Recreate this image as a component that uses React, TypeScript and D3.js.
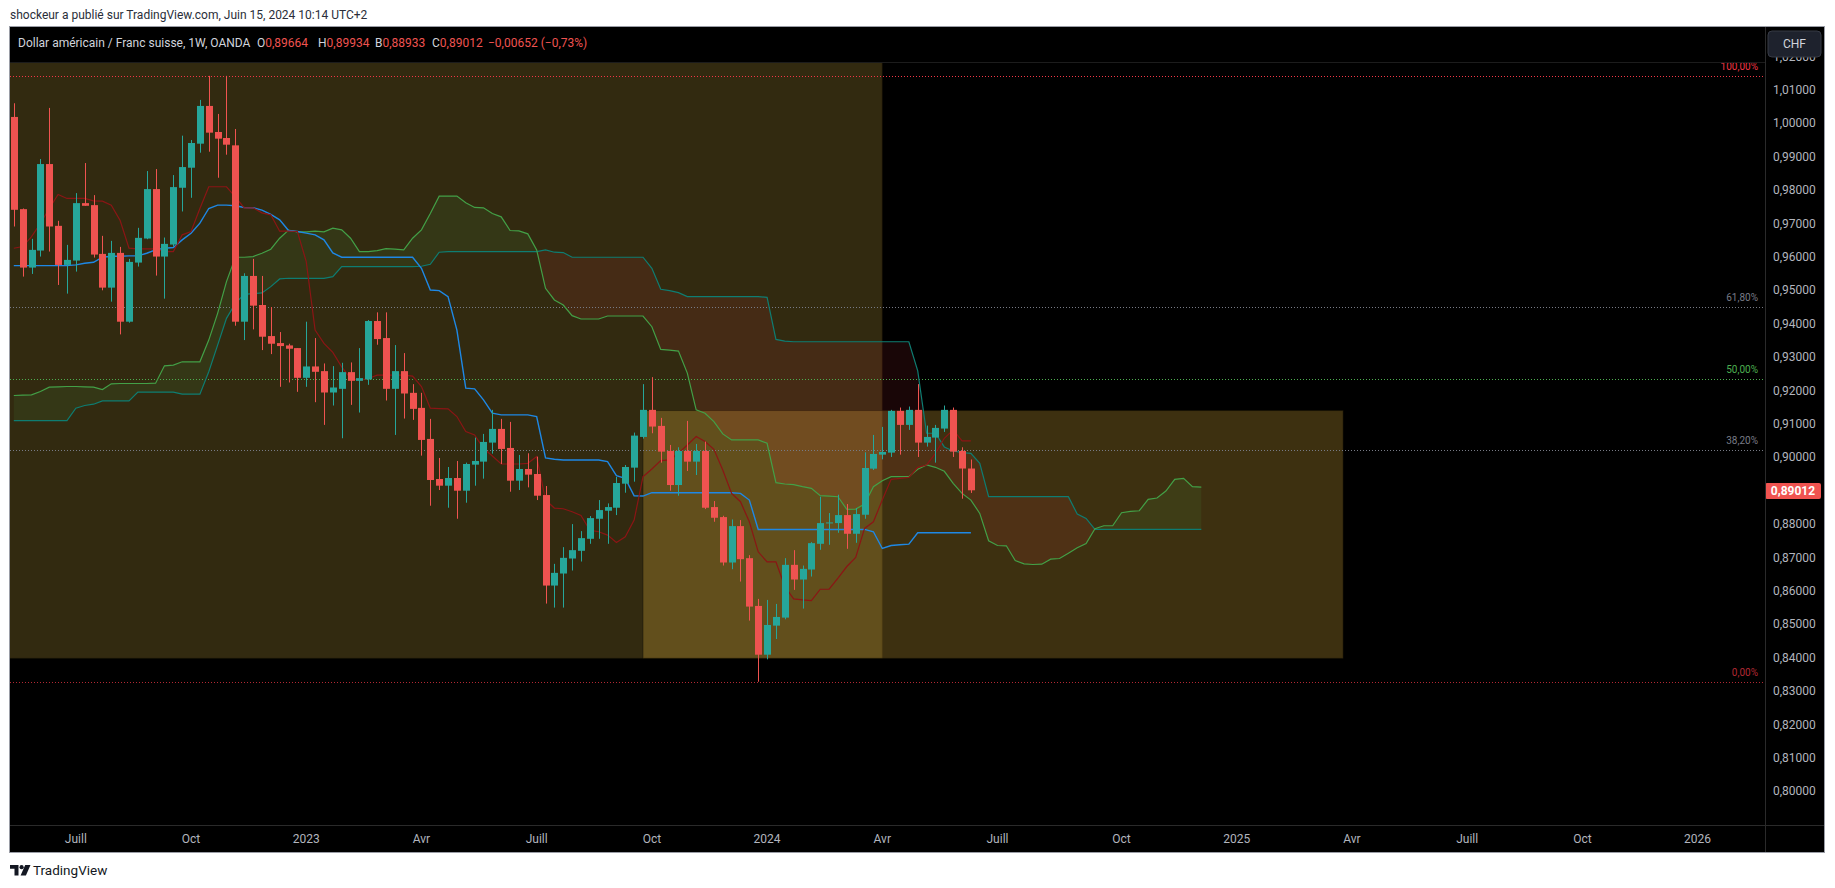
import * as d3 from "d3";

// USD/CHF weekly, OANDA
const firstWeek = "2022-05-16";

const opens = [
  1.0019, 0.9743, 0.9568, 0.9619, 0.9878, 0.9693, 0.9576, 0.9589, 0.9761, 0.9755,
  0.9609, 0.9508, 0.9612, 0.9406, 0.9583, 0.9655, 0.9803, 0.9601, 0.9637, 0.9807,
  0.9867, 0.9939, 1.0052, 0.9974, 0.9956, 0.9934, 0.9406, 0.9543, 0.9456, 0.9363,
  0.9342, 0.9335, 0.9327, 0.9238, 0.9272, 0.9258, 0.9194, 0.9205, 0.9255, 0.9229,
  0.9233, 0.9408, 0.9357, 0.9205, 0.9258, 0.9193, 0.9148, 0.9055, 0.8935, 0.8915,
  0.8938, 0.89, 0.8978, 0.8987, 0.9044, 0.9085, 0.9028, 0.893, 0.8965, 0.895,
  0.8887, 0.8616, 0.8652, 0.8697, 0.872, 0.8756, 0.8816, 0.884, 0.8849, 0.8921,
  0.8969, 0.9061, 0.9142, 0.9094, 0.9019, 0.8917, 0.9019, 0.8987, 0.9019, 0.8851,
  0.8821, 0.8685, 0.8794, 0.8698, 0.8555, 0.8409, 0.8496, 0.852, 0.8678, 0.8634,
  0.8664, 0.8741, 0.8803, 0.8803, 0.8827, 0.8771, 0.8828, 0.8966, 0.9008, 0.9014,
  0.9139, 0.9097, 0.9142, 0.9044, 0.9059, 0.9086, 0.9142, 0.9019, 0.89664,
];
const highs = [
  1.006, 0.9745, 0.9654, 0.9893, 1.0046, 0.9708, 0.9636, 0.9791, 0.9881, 0.9785,
  0.9663, 0.9648, 0.963, 0.9594, 0.9687, 0.9857, 0.9863, 0.9658, 0.9845, 0.9963,
  0.995, 1.007, 1.0142, 1.0028, 1.0142, 0.9983, 0.9551, 0.9594, 0.9543, 0.945,
  0.9375, 0.934, 0.9327, 0.9406, 0.9357, 0.9281, 0.9273, 0.9283, 0.9284, 0.9327,
  0.9411, 0.9434, 0.9434, 0.9336, 0.9312, 0.9219, 0.9193, 0.9115, 0.8998, 0.8971,
  0.8989, 0.8984, 0.9059, 0.907, 0.9142, 0.9115, 0.9106, 0.9007, 0.9012, 0.9002,
  0.8914, 0.8681, 0.8731, 0.88, 0.8779, 0.8824, 0.8872, 0.8862, 0.8941, 0.8977,
  0.9074, 0.9219, 0.924, 0.9118, 0.9037, 0.903, 0.9109, 0.904, 0.9047, 0.8869,
  0.8825, 0.8814, 0.8812, 0.8707, 0.8576, 0.8573, 0.8561, 0.8698, 0.8722, 0.8676,
  0.8746, 0.8882, 0.8833, 0.8888, 0.886, 0.8848, 0.9015, 0.9067, 0.9091, 0.9142,
  0.9149, 0.9152, 0.9219, 0.9095, 0.9097, 0.9155, 0.9149, 0.903, 0.89934,
];
const lows = [
  0.9691, 0.9541, 0.9549, 0.9601, 0.9616, 0.9516, 0.949, 0.9556, 0.9753, 0.9598,
  0.95, 0.9466, 0.9368, 0.9403, 0.9571, 0.9653, 0.9544, 0.9475, 0.9631, 0.9736,
  0.9777, 0.9912, 0.9915, 0.9837, 0.9906, 0.9394, 0.9351, 0.9383, 0.9321, 0.9309,
  0.9211, 0.9224, 0.9196, 0.9211, 0.9165, 0.9097, 0.9155, 0.9057, 0.9157, 0.9134,
  0.9217, 0.9337, 0.917, 0.9067, 0.9116, 0.9112, 0.9005, 0.8855, 0.8902, 0.8849,
  0.8816, 0.8864, 0.8915, 0.8936, 0.9011, 0.898, 0.8897, 0.8902, 0.891, 0.8872,
  0.8562, 0.855, 0.855, 0.8661, 0.8688, 0.8741, 0.8756, 0.8741, 0.8827, 0.8894,
  0.8927, 0.9056, 0.9072, 0.8984, 0.89, 0.8885, 0.8959, 0.8947, 0.8845, 0.8807,
  0.8676, 0.8665, 0.8628, 0.8511, 0.8328, 0.8395, 0.8456, 0.8515, 0.8603, 0.8547,
  0.8643, 0.8723, 0.8738, 0.8774, 0.8726, 0.8744, 0.8816, 0.8962, 0.8994, 0.9001,
  0.9008, 0.9082, 0.9001, 0.9032, 0.8984, 0.9076, 0.9001, 0.8876, 0.88933,
];
const closes = [
  0.9741, 0.9568, 0.9621, 0.9878, 0.9691, 0.9576, 0.9591, 0.9761, 0.9753, 0.9607,
  0.9508, 0.9612, 0.9406, 0.9585, 0.9657, 0.9803, 0.9601, 0.9639, 0.9809, 0.9869,
  0.9941, 1.0052, 0.9972, 0.9954, 0.9936, 0.9406, 0.9543, 0.9454, 0.9361, 0.934,
  0.9333, 0.9325, 0.9238, 0.9272, 0.9256, 0.9194, 0.9209, 0.9255, 0.9229, 0.9237,
  0.9408, 0.9354, 0.9205, 0.9258, 0.9191, 0.9145, 0.9052, 0.8932, 0.8915, 0.8938,
  0.89, 0.898, 0.8989, 0.9046, 0.9085, 0.9025, 0.893, 0.8965, 0.8948, 0.8885,
  0.8616, 0.8654, 0.8699, 0.8722, 0.8758, 0.8818, 0.8842, 0.8851, 0.8923, 0.8971,
  0.9065, 0.9142, 0.9092, 0.9017, 0.8917, 0.9019, 0.8987, 0.9019, 0.8849, 0.8819,
  0.8685, 0.8794, 0.8695, 0.8553, 0.8409, 0.8498, 0.8522, 0.8678, 0.8634, 0.8666,
  0.8743, 0.8803, 0.8805, 0.8827, 0.8771, 0.883, 0.8968, 0.901, 0.9016, 0.9139,
  0.9097, 0.9142, 0.9044, 0.9061, 0.9088, 0.9142, 0.9017, 0.89664, 0.89012,
];

// Ichimoku lines as drawn (cloud already shifted 26 weeks forward)
const tenkan = [
  0.9626, 0.9631, 0.9661, 0.97, 0.9745, 0.9787, 0.9775, 0.9775, 0.9775, 0.9768,
  0.9767, 0.9755, 0.9709, 0.9626, 0.9624, 0.9624, 0.9624, 0.9616, 0.9616, 0.9666,
  0.9676, 0.9745, 0.981, 0.981, 0.981, 0.978, 0.9747, 0.9747, 0.9732, 0.9726,
  0.9677, 0.9677, 0.9676, 0.9586, 0.9381, 0.9341, 0.9314, 0.9271, 0.9236, 0.9231,
  0.9236, 0.9246, 0.9246, 0.9246, 0.9246, 0.9243, 0.9212, 0.9147, 0.9146, 0.9145,
  0.9122, 0.9077, 0.9067, 0.9027, 0.9004, 0.898, 0.898, 0.898, 0.8982, 0.9002,
  0.8872, 0.8848, 0.8846, 0.8837, 0.8826, 0.8782, 0.8777, 0.8767, 0.8745, 0.8762,
  0.8812, 0.8942, 0.8965, 0.899, 0.8992, 0.9012, 0.9037, 0.9062, 0.9047, 0.9024,
  0.8962, 0.8892, 0.8867, 0.8807, 0.8717, 0.8687, 0.8687, 0.8613, 0.8576, 0.8573,
  0.8571, 0.8605, 0.8605, 0.8638, 0.8673, 0.87, 0.8787, 0.8807, 0.8872, 0.8934,
  0.8937, 0.894, 0.897, 0.8977, 0.9012, 0.9057, 0.9082, 0.9049, 0.9049,
];
const kijun = [
  0.9574, 0.9574, 0.9574, 0.9574, 0.9574, 0.9574, 0.9574, 0.9576, 0.9581, 0.9584,
  0.9599, 0.9602, 0.9602, 0.9603, 0.9603, 0.9611, 0.9621, 0.9626, 0.9628, 0.9651,
  0.9671, 0.9701, 0.9745, 0.9755, 0.9755, 0.9753, 0.9748, 0.9747, 0.974, 0.9727,
  0.9711, 0.9679, 0.9676, 0.9671, 0.9666, 0.9651, 0.9612, 0.9599, 0.9599, 0.9599,
  0.9599, 0.9599, 0.9599, 0.9599, 0.9599, 0.9599, 0.9566, 0.9501, 0.9499, 0.9481,
  0.9381, 0.9207, 0.9205, 0.9172, 0.9132, 0.9127, 0.9127, 0.9127, 0.9127, 0.9122,
  0.8998, 0.8994, 0.8992, 0.8992, 0.8992, 0.8992, 0.8992, 0.8987, 0.8945, 0.8937,
  0.8885, 0.8884, 0.8894, 0.8894, 0.8894, 0.8894, 0.8894, 0.8894, 0.8894, 0.8894,
  0.8894, 0.8894, 0.8892, 0.8872, 0.8784, 0.8784, 0.8784, 0.8784, 0.8784, 0.8784,
  0.8784, 0.8784, 0.8784, 0.8784, 0.8784, 0.8784, 0.8784, 0.8777, 0.8727, 0.8736,
  0.8738, 0.874, 0.8774, 0.8774, 0.8774, 0.8774, 0.8774, 0.8774, 0.8774,
];
const senkouA = [
  0.9185, 0.9186, 0.9187, 0.9197, 0.921, 0.9211, 0.9212, 0.9212, 0.9211, 0.921,
  0.9203, 0.922, 0.9221, 0.9221, 0.9221, 0.9221, 0.9222, 0.9274, 0.9276, 0.9286,
  0.9286, 0.9286, 0.9351, 0.9431, 0.9526, 0.9599, 0.9599, 0.9601, 0.9611, 0.9623,
  0.9656, 0.968, 0.9675, 0.9675, 0.9677, 0.9675, 0.9686, 0.9681, 0.9656, 0.9616,
  0.9616, 0.9619, 0.9625, 0.9623, 0.9621, 0.9656, 0.9681, 0.973, 0.9782, 0.9782,
  0.9782, 0.9762, 0.9748, 0.9747, 0.973, 0.972, 0.9679, 0.9678, 0.9669, 0.9621,
  0.9506, 0.9471, 0.9456, 0.9424, 0.9414, 0.9414, 0.9414, 0.9423, 0.9423, 0.9423,
  0.9423, 0.9423, 0.9391, 0.9323, 0.9321, 0.9318, 0.9252, 0.9142, 0.9132, 0.9107,
  0.907, 0.9052, 0.9052, 0.9052, 0.9052, 0.9042, 0.8924, 0.892, 0.8918, 0.8912,
  0.8907, 0.8885, 0.8884, 0.8882, 0.8844, 0.8845, 0.886, 0.8912, 0.893, 0.8942,
  0.8942, 0.8942, 0.8964, 0.8977, 0.897, 0.8958, 0.8922, 0.8892, 0.8872, 0.8832,
  0.875, 0.8736, 0.8735, 0.8691, 0.8681, 0.8679, 0.868, 0.8695, 0.8697, 0.8713,
  0.8729, 0.8742, 0.8786, 0.8795, 0.8795, 0.8834, 0.8838, 0.884, 0.8874, 0.8878,
  0.8899, 0.8934, 0.8937, 0.8912, 0.8911,
];
const senkouB = [
  0.911, 0.911, 0.911, 0.911, 0.911, 0.911, 0.911, 0.9147, 0.9155, 0.9159,
  0.9169, 0.9169, 0.9169, 0.9169, 0.9195, 0.9195, 0.9195, 0.9195, 0.9195, 0.9189,
  0.9189, 0.9189, 0.9256, 0.9336, 0.9416, 0.9461, 0.9488, 0.949, 0.9492, 0.9511,
  0.9534, 0.9536, 0.9536, 0.9536, 0.9536, 0.9536, 0.9541, 0.9571, 0.9571, 0.9571,
  0.9571, 0.9571, 0.9571, 0.9571, 0.9571, 0.9571, 0.9572, 0.9578, 0.9614, 0.9616,
  0.9616, 0.9616, 0.9616, 0.9616, 0.9616, 0.9616, 0.9616, 0.9616, 0.9616, 0.9616,
  0.9621, 0.9614, 0.9613, 0.9599, 0.9599, 0.9599, 0.9599, 0.9599, 0.9599, 0.9599,
  0.9599, 0.9599, 0.9566, 0.9503, 0.9499, 0.9493, 0.9481, 0.9481, 0.9481, 0.9481,
  0.9481, 0.9481, 0.9481, 0.9481, 0.9481, 0.9479, 0.9353, 0.9348, 0.9346, 0.9346,
  0.9346, 0.9346, 0.9346, 0.9346, 0.9346, 0.9346, 0.9346, 0.9346, 0.9346, 0.9346,
  0.9346, 0.9346, 0.9259, 0.9072, 0.9072, 0.9031, 0.9019, 0.9014, 0.9012, 0.8982,
  0.8882, 0.8882, 0.8882, 0.8882, 0.8882, 0.8882, 0.8882, 0.8882, 0.8882, 0.8882,
  0.883, 0.8817, 0.8784, 0.8784, 0.8784, 0.8784, 0.8784, 0.8784, 0.8784, 0.8784,
  0.8784, 0.8784, 0.8784, 0.8784, 0.8784,
];

// drawings: week offsets from firstWeek, prices
const boxWeeks = [[-6, 98], [71, 150]];
const boxPrices = [[1.0183, 0.8398], [0.914, 0.8398]];

const fibRatios = [1, 0.618, 0.5, 0.382, 0];
const fibLabels = ["100,00%", "61,80%", "50,00%", "38,20%", "0,00%"];

const timeTicks = [
  "2022-07-04", "2022-10-03", "2023-01-02", "2023-04-03", "2023-07-03", "2023-10-02",
  "2024-01-01", "2024-04-01", "2024-07-01", "2024-10-07", "2025-01-06", "2025-04-07",
  "2025-07-07", "2025-10-06", "2026-01-05",
];
const timeLabels = [
  "Juill", "Oct", "2023", "Avr", "Juill", "Oct", "2024", "Avr", "Juill", "Oct", "2025",
  "Avr", "Juill", "Oct", "2026",
];
const priceTicks = [
  1.02, 1.01, 1.0, 0.99, 0.98, 0.97, 0.96, 0.95, 0.94, 0.93, 0.92, 0.91, 0.9, 0.89, 0.88,
  0.87, 0.86, 0.85, 0.84, 0.83, 0.82, 0.81, 0.8,
];

const UP = "#26a69a";
const DOWN = "#ef5350";
const fibColors = ["#f23645", "#787b86", "#4caf50", "#787b86", "#b22833"];
const FONT = "Roboto, 'Noto Sans', sans-serif";

const W = 1835;
const H = 888;
const plot = { left: 10, right: 1765, top: 62, bottom: 825 };

export default function App() {
  const t0 = d3.utcParse("%Y-%m-%d")(firstWeek)!;
  const wk = (i: number) => d3.utcDay.offset(t0, 7 * i);

  const x = d3.scaleUtc().domain([t0, wk(108)]).range([13.8, 970.9]);
  const y = d3.scaleLinear().domain([0.8, 0.9]).range([791.3, 457.3]);
  const xi = (i: number) => x(wk(i));

  const fmt = (v: number) => d3.format(".5f")(v).replace(".", ",");

  // cloud runs, split where A and B cross
  type Run = { up: boolean; a: [number, number][]; b: [number, number][] };
  const runs: Run[] = [];
  let cur: Run | null = null;
  for (let i = 0; i < senkouA.length; i++) {
    const up = senkouA[i] >= senkouB[i];
    const px = xi(i);
    if (!cur) {
      cur = { up, a: [], b: [] };
      runs.push(cur);
    } else if (up !== cur.up) {
      const d0 = senkouA[i - 1] - senkouB[i - 1];
      const d1 = senkouA[i] - senkouB[i];
      const t = d0 / (d0 - d1);
      const xc = xi(i - 1) + t * (px - xi(i - 1));
      const yc = y(senkouA[i - 1] + t * (senkouA[i] - senkouA[i - 1]));
      cur.a.push([xc, yc]);
      cur.b.push([xc, yc]);
      cur = { up, a: [[xc, yc]], b: [[xc, yc]] };
      runs.push(cur);
    }
    cur.a.push([px, y(senkouA[i])]);
    cur.b.push([px, y(senkouB[i])]);
  }
  const poly = d3.line();

  const line = d3
    .line<number>()
    .x((_, i) => xi(i))
    .y((d) => y(d));

  const hi = d3.max(highs)!;
  const lo = d3.min(lows)!;
  const last = closes[closes.length - 1];
  const prev = closes[closes.length - 2];

  const bodyW = 7;

  return (
    <div style={{ position: "fixed", left: 0, top: 0, width: W, height: H, background: "#fff" }}>
      <svg width={W} height={H} style={{ display: "block", fontFamily: FONT }}>
        <defs>
          <clipPath id="plotClip">
            <rect x={plot.left} y={plot.top} width={plot.right - plot.left} height={plot.bottom - plot.top} />
          </clipPath>
        </defs>

        <text x={10} y={19} fontSize={12} fill="#2a2e39">
          shockeur a publié sur TradingView.com, Juin 15, 2024 10:14 UTC+2
        </text>

        {/* chart frame */}
        <rect x={10} y={27} width={1814} height={825} fill="#000" />

        <g clipPath="url(#plotClip)">
          {boxWeeks.map((b, k) => (
            <rect
              key={k}
              x={xi(b[0])}
              y={y(boxPrices[k][0])}
              width={xi(b[1]) - xi(b[0])}
              height={y(boxPrices[k][1]) - y(boxPrices[k][0])}
              fill={k === 0 ? "rgba(250,210,80,0.2)" : "rgba(244,192,64,0.25)"}
              stroke="rgba(20,16,4,0.45)"
              strokeWidth={1}
            />
          ))}

          {runs.map((r, k) => (
            <path
              key={k}
              d={poly([...r.a, ...r.b.slice().reverse()])! + "Z"}
              fill={r.up ? "rgba(76,175,80,0.1)" : "rgba(242,54,69,0.1)"}
            />
          ))}

          {fibRatios.map((r, k) => {
            const yy = Math.round(y(lo + r * (hi - lo))) + 0.5;
            return (
              <line
                key={k}
                x1={plot.left}
                x2={plot.right - 2}
                y1={yy}
                y2={yy}
                stroke={fibColors[k]}
                strokeDasharray="1 2"
                strokeWidth={1}
              />
            );
          })}

          <path d={line(senkouB)!} fill="none" stroke="#0e7d72" strokeWidth={1.2} />
          <path d={line(senkouA)!} fill="none" stroke="#43a047" strokeWidth={1.2} />
          <path d={line(kijun)!} fill="none" stroke="#1e88e5" strokeWidth={1.4} />
          <path d={line(tenkan)!} fill="none" stroke="#8b1515" strokeWidth={1.2} />

          {closes.map((c, i) => {
            const o = opens[i];
            const col = c >= o ? UP : DOWN;
            const cx = Math.round(xi(i));
            const top = y(Math.max(o, c));
            const bot = y(Math.min(o, c));
            return (
              <g key={i}>
                <line x1={cx + 0.5} x2={cx + 0.5} y1={y(highs[i])} y2={y(lows[i])} stroke={col} strokeWidth={1} />
                <rect x={cx - 3} y={top} width={bodyW} height={Math.max(1, bot - top)} fill={col} />
              </g>
            );
          })}
        </g>

        {fibRatios.map((r, k) => (
          <text
            key={k}
            x={1758}
            y={Math.round(y(lo + r * (hi - lo))) - 6}
            fontSize={10}
            fill={fibColors[k]}
            textAnchor="end"
          >
            {fibLabels[k]}
          </text>
        ))}

        {/* legend band */}
        <rect x={10} y={27} width={plot.right - 10} height={35} fill="#000" />
        <line x1={10} x2={plot.right} y1={62.5} y2={62.5} stroke="#1c1c1c" />
        <text x={18} y={46.5} fontSize={12} fill="#d1d4dc">
          Dollar américain / Franc suisse, 1W, OANDA
        </text>
        {[
          ["O", opens[opens.length - 1], 257],
          ["H", highs[highs.length - 1], 318],
          ["B", lows[lows.length - 1], 375],
          ["C", last, 432],
        ].map(([k, v, px]) => (
          <text key={k as string} x={px as number} y={46.5} fontSize={12}>
            <tspan fill="#d1d4dc">{k as string}</tspan>
            <tspan fill={DOWN}>{fmt(v as number)}</tspan>
          </text>
        ))}
        <text x={488} y={46.5} fontSize={12} fill={DOWN}>
          {"−" +
            fmt(prev - last) +
            " (−" +
            d3.format(".2f")(((prev - last) / prev) * 100).replace(".", ",") +
            "%)"}
        </text>

        {/* price axis */}
        {priceTicks.map((p) => (
          <text key={p} x={1773} y={y(p)} fontSize={12} fill="#b2b5be" dominantBaseline="central">
            {fmt(p)}
          </text>
        ))}
        <rect x={1768} y={31} width={53} height={26} rx={4} fill="#1e222d" stroke="#363a45" />
        <text x={1794.5} y={44} fontSize={12} fill="#d1d4dc" textAnchor="middle" dominantBaseline="central">
          CHF
        </text>
        <rect x={1765} y={Math.round(y(last)) - 7} width={56} height={16} rx={2} fill="#f05350" />
        <text
          x={1793}
          y={Math.round(y(last)) + 1}
          fontSize={12}
          fontWeight="bold"
          fill="#fff"
          textAnchor="middle"
          dominantBaseline="central"
        >
          {fmt(last)}
        </text>

        {/* time axis */}
        {timeTicks.map((d, k) => (
          <text
            key={d}
            x={x(d3.utcParse("%Y-%m-%d")(d)!)}
            y={839}
            fontSize={12}
            fill="#b2b5be"
            textAnchor="middle"
            dominantBaseline="central"
          >
            {timeLabels[k]}
          </text>
        ))}

        <line x1={plot.right + 0.5} x2={plot.right + 0.5} y1={27} y2={852} stroke="#2a2a2a" />
        <line x1={10} x2={1824} y1={825.5} y2={825.5} stroke="#2a2a2a" />
        <rect x={9.5} y={26.5} width={1815} height={826} fill="none" stroke="#9a9da6" />

        {/* footer logo */}
        <g fill="#131722">
          <path d="M10,865 h8.5 v10.5 h-4 v-6.8 h-4.5 z" />
          <circle cx={21.6} cy={867.2} r={2.1} />
          <path d="M25.2,865 h5.3 l-4.6,10.5 h-5.3 z" />
        </g>
        <text x={33} y={875} fontSize={13.5} fill="#131722">
          TradingView
        </text>
      </svg>
    </div>
  );
}
